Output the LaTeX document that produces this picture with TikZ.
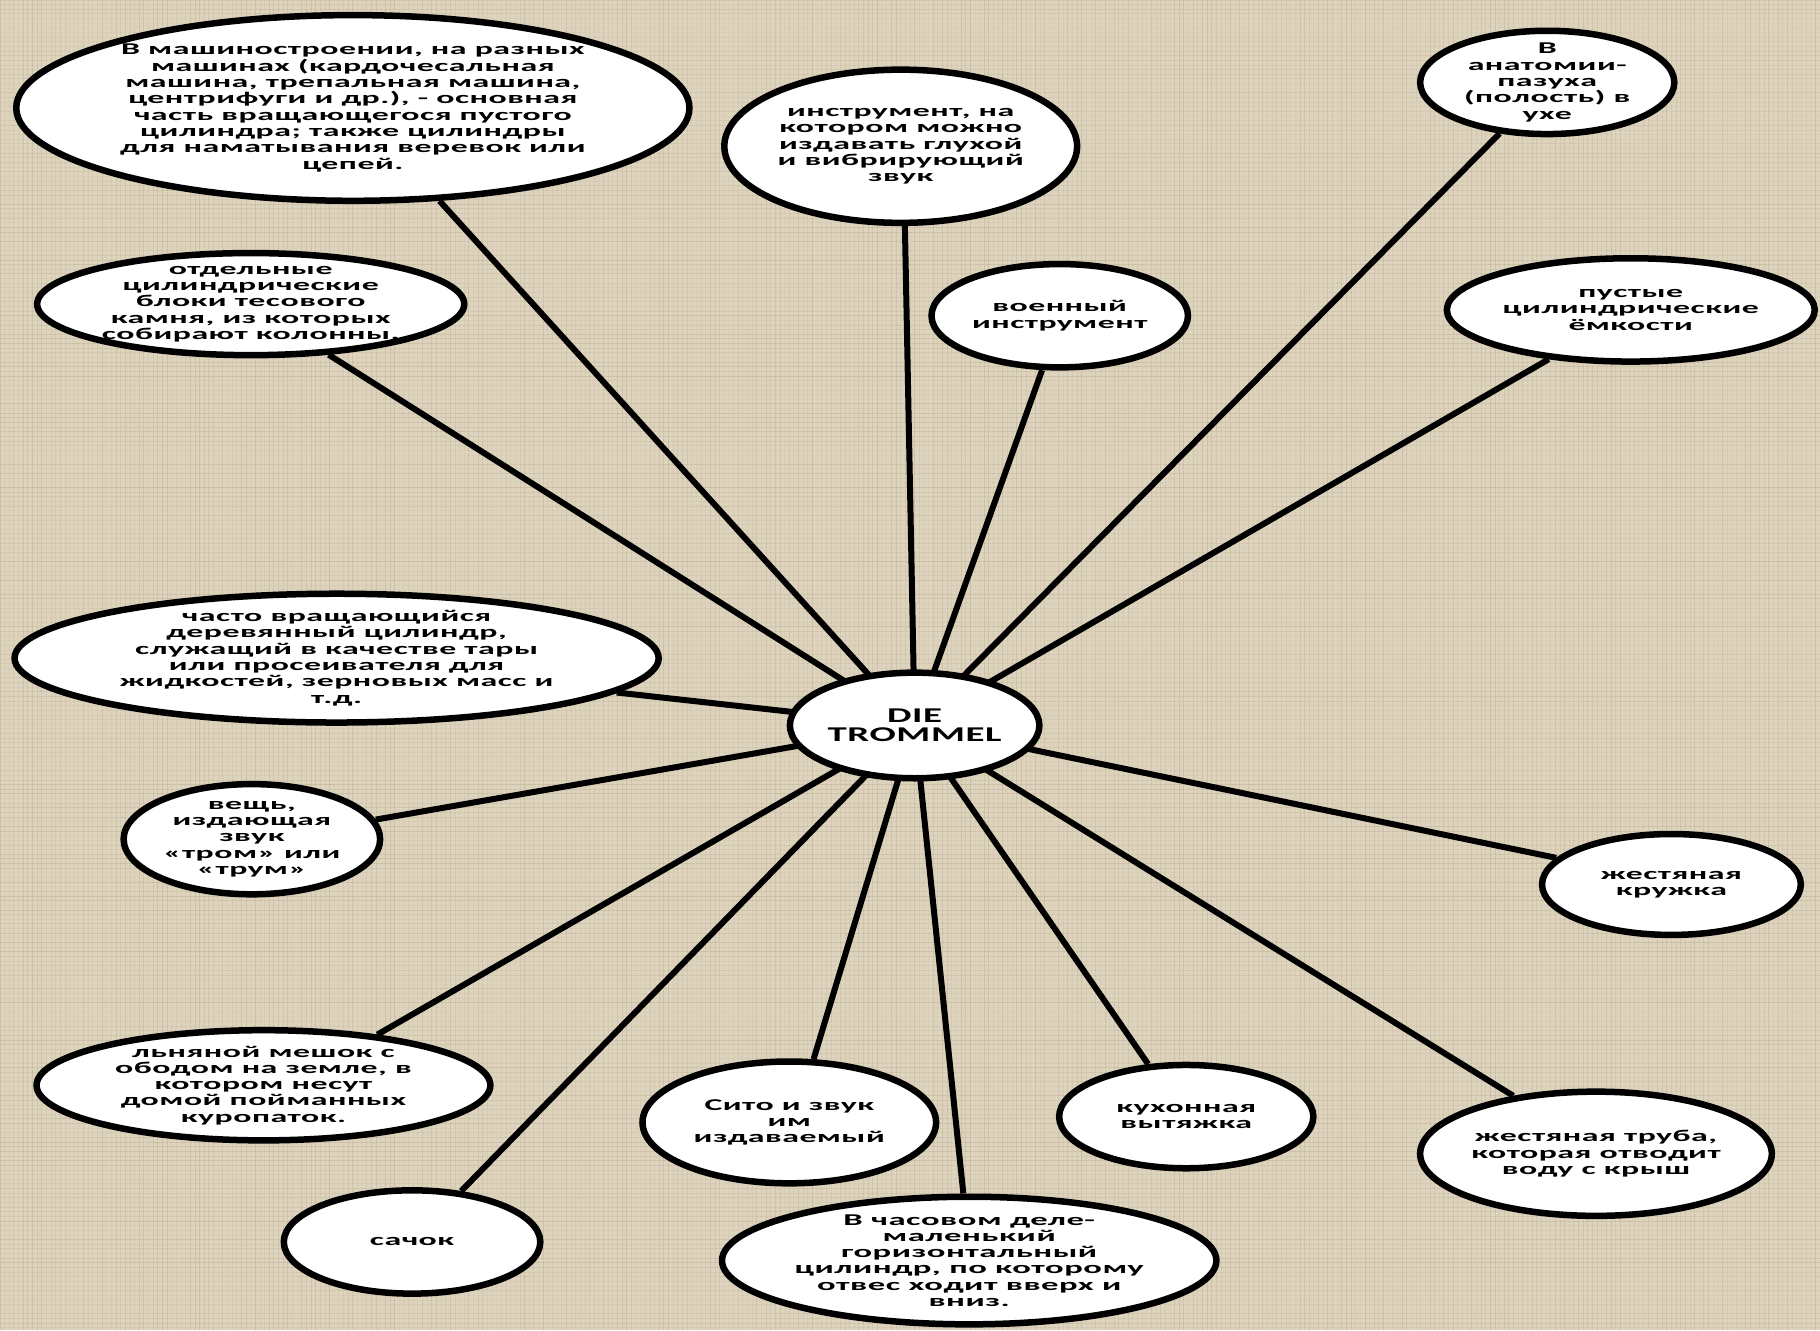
\documentclass[tikz,border=0pt]{standalone}
\usepackage{fontspec}
\usetikzlibrary{shapes.geometric,backgrounds}
\newfontfamily\nodefont{Carlito}[FakeStretch=2.05,LetterSpace=3]
\newfontfamily\widefont{Carlito}[FakeStretch=2.1,LetterSpace=3]
\newfontfamily\centerfont{Carlito}[FakeStretch=1.85,LetterSpace=3]
\definecolor{linen}{RGB}{222,212,190}
\definecolor{linendark}{RGB}{178,163,133}
\tikzset{
  bub/.style={draw=black, line width=6.5pt, fill=white, ellipse, inner sep=0pt},
  txt/.style={align=center, inner sep=0pt, text=black,
    font=\nodefont\bfseries\fontsize{16.5}{16.3}\selectfont},
  spoke/.style={line width=6pt, draw=black},
}
\begin{document}
\begin{tikzpicture}[x=1.1607pt, y=-1.1607pt]
\useasboundingbox (0,0) rectangle (1568,1146);
% central node
\node[bub, minimum width=249.5pt, minimum height=105.6pt] (C) at (788,625) {};
\node[txt, font=\centerfont\bfseries\fontsize{21}{18.5}\selectfont] (tC) at (C) {DIE\\TROMMEL};
% outer nodes
\node[bub, minimum width=673.2pt, minimum height=185.7pt] (N1) at (304,93) {};
\node[txt] (t1) at (N1) {В машиностроении, на разных\\машинах (кардочесальная\\машина, трепальная машина,\\центрифуги и др.), - основная\\часть вращающегося пустого\\цилиндра; также цилиндры\\для наматывания веревок или\\цепей.};
\node[bub, minimum width=427.1pt, minimum height=102.1pt] (N2) at (216,262) {};
\node[txt] (t2) at (N2) {отдельные\\цилиндрические\\блоки тесового\\камня, из которых\\собирают колонны.};
\node[bub, minimum width=352.8pt, minimum height=153.2pt] (N3) at (776,126) {};
\node[txt] (t3) at (N3) {инструмент, на\\котором можно\\издавать глухой\\и вибрирующий\\звук};
\node[bub, minimum width=254.2pt, minimum height=103.3pt] (N4) at (1333,71) {};
\node[txt] (t4) at (N4) {В\\анатомии-\\пазуха\\(полость) в\\ухе};
\node[bub, minimum width=256.5pt, minimum height=103.3pt] (N5) at (913,272) {};
\node[txt] (t5) at (N5) {военный\\инструмент};
\node[bub, minimum width=367.9pt, minimum height=103.3pt] (N6) at (1405,267) {};
\node[txt] (t6) at (N6) {пустые\\цилиндрические\\ёмкости};
\node[bub, minimum width=644.1pt, minimum height=128.8pt] (N7) at (290,567) {};
\node[txt] (t7) at (N7) {часто вращающийся\\деревянный цилиндр,\\служащий в качестве тары\\или просеивателя для\\жидкостей, зерновых масс и\\т.д.};
\node[bub, minimum width=256.5pt, minimum height=110.2pt] (N8) at (217,723) {};
\node[txt] (t8) at (N8) {вещь,\\издающая\\звук\\«тром» или\\«трум»};
\node[bub, minimum width=258.8pt, minimum height=100.9pt] (N9) at (1440,762) {};
\node[txt] (t9) at (N9) {жестяная\\кружка};
\node[bub, minimum width=453.8pt, minimum height=110.2pt] (N10) at (227,935) {};
\node[txt] (t10) at (N10) {льняной мешок с\\ободом на земле, в\\котором несут\\домой пойманных\\куропаток.};
\node[bub, minimum width=293.6pt, minimum height=121.8pt] (N11) at (680,967) {};
\node[txt] (t11) at (N11) {Сито и звук\\им\\издаваемый};
\node[bub, minimum width=254.2pt, minimum height=103.3pt] (N12) at (1022,962) {};
\node[txt] (t12) at (N12) {кухонная\\вытяжка};
\node[bub, minimum width=351.7pt, minimum height=124.2pt] (N13) at (1375,994) {};
\node[txt] (t13) at (N13) {жестяная труба,\\которая отводит\\воду с крыш};
\node[bub, minimum width=256.5pt, minimum height=103.3pt] (N14) at (355,1070) {};
\node[txt] (t14) at (N14) {сачок};
\node[bub, minimum width=494.4pt, minimum height=127.6pt] (N15) at (835,1086) {};
\node[txt, font=\widefont\bfseries\fontsize{16.5}{16.3}\selectfont] (t15) at (N15) {В часовом деле-\\маленький\\горизонтальный\\цилиндр, по которому\\отвес ходит вверх и\\вниз.};
\begin{pgfonlayer}{background}
  \fill[linen] (0,0) rectangle (1568,1146);
  \pgfmathsetseed{7}
  \foreach \i in {0,4,...,1568} {
    \pgfmathsetmacro\op{0.08+0.3*rnd}
    \draw[linendark, line width=0.9pt, opacity=\op] (\i,0) -- (\i,1146);
  }
  \foreach \j in {0,4,...,1146} {
    \pgfmathsetmacro\op{0.08+0.3*rnd}
    \draw[linendark, line width=0.9pt, opacity=\op] (0,\j) -- (1568,\j);
  }
  \draw[spoke] (C.center) -- (N1.-47);
  \draw[spoke] (C.center) -- (N2.-33);
  \draw[spoke] (C.center) -- (N3.-87);
  \draw[spoke] (C.center) -- (N4.-133);
  \draw[spoke] (C.center) -- (N5.-108);
  \draw[spoke] (C.center) -- (N6.-149);
  \draw[spoke] (C.center) -- (N7.-7);
  \draw[spoke] (C.center) -- (N8.9);
  \draw[spoke] (C.center) -- (N9.167);
  \draw[spoke] (C.center) -- (N10.24);
  \draw[spoke] (C.center) -- (N11.69);
  \draw[spoke] (C.center) -- (N12.126);
  \draw[spoke] (C.center) -- (N13.145);
  \draw[spoke] (C.center) -- (N14.46);
  \draw[spoke] (C.center) -- (N15.95);
\end{pgfonlayer}
\end{tikzpicture}
\end{document}
